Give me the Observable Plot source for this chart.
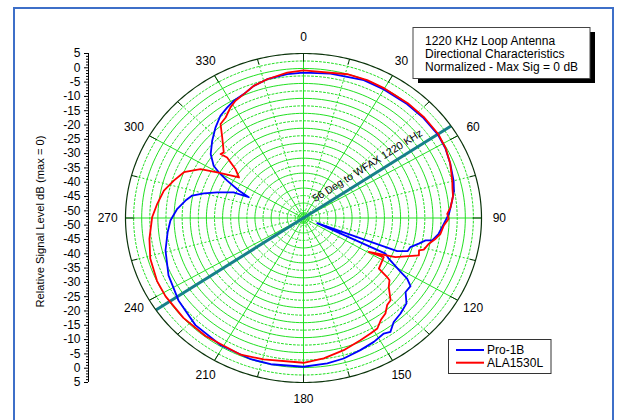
<!DOCTYPE html>
<html><head><meta charset="utf-8">
<script src="https://cdn.jsdelivr.net/npm/d3@7"></script>
<script src="https://cdn.jsdelivr.net/npm/@observablehq/plot@0.6"></script>
<style>
body{margin:0;background:#fff;font-family:Arial,"Liberation Sans",sans-serif;}
#wrap{position:relative;width:618px;height:420px;overflow:hidden;}
</style>
</head><body><div id="wrap"></div>
<script>
// ---- data (azimuth in degrees, level in dB) ----
const seriesNames = ["Pro-1B", "ALA1530L"];
const seriesColors = ["#0000ff", "#ff0000"];
const proAngles = [0, 9.8, 22, 30, 40, 48, 56, 62, 68, 75, 79, 82.8, 88.3, 92.5, 97.2, 100.7, 101.2, 103.5, 106.4, 108.9, 110.9, 112.2, 115.2, 117.3, 121, 122.3, 124.6, 128.1, 131.9, 136.8, 141.3, 144.8, 147.3, 152.3, 158.3, 165.2, 171.4, 180, 191.7, 199, 211, 223, 234.5, 245.3, 255.7, 263.4, 268.8, 274.5, 279.1, 282.3, 285, 287.8, 291.7, 292.3, 294.7, 297.9, 300.3, 302.2, 306.7, 312.5, 318, 323.1, 327.4, 331.2, 336, 340.8, 346.4, 354];
const proDb = [-1.7, -1.3, -0.5, -0.6, -0.5, -0.3, -0.2, -0.6, -1.4, -2.3, -3.0, -4.1, -5.5, -7.1, -8.5, -10.2, -12.3, -14.2, -16.5, -16.9, -20.1, -47.7, -23.2, -21.5, -15.9, -12.9, -10.5, -10.6, -7.8, -6.7, -5.9, -3.8, -4.5, -3.6, -2.8, -1.7, -1.1, -0.5, -0.3, -0.3, -0.6, -1.3, -2.9, -4.5, -6.5, -8.3, -9.5, -11.6, -13.9, -15.7, -19.2, -23.2, -28.2, -33.4, -29.5, -24.6, -20.8, -18.2, -15.1, -12.5, -10.0, -7.8, -6.7, -5.75, -5.1, -3.6, -2.6, -1.95];
const alaAngles = [0, 15.7, 23.1, 30, 40, 48, 56, 62, 68, 74.8, 78, 81, 85.5, 88.2, 90.3, 93.3, 97.1, 99.6, 102.5, 105.9, 106.9, 109.3, 114.7, 119.4, 117.8, 126, 127.4, 128.1, 131.2, 135.6, 138.4, 141.6, 144.9, 148.3, 151.8, 156.7, 164.3, 172.4, 180, 194.6, 203, 217.5, 228, 238.4, 245, 254, 261.7, 270.3, 276, 282, 287.3, 292.5, 297.2, 299.8, 302.2, 304.2, 307.9, 310.6, 309.9, 311.7, 317, 320.8, 324.4, 328.6, 331.8, 336, 340.8, 346.4, 354.1];
const alaDb = [-0.9, -0.3, -0.1, -0.2, -0.1, 0, 0, -0.5, -1.4, -2.7, -3.3, -3.6, -4.85, -6.05, -5.6, -7.1, -7.9, -9.2, -11.0, -12.1, -13.5, -13.0, -19.8, -28.3, -23.2, -22.4, -18.5, -17.2, -15.9, -12.3, -11.8, -9.9, -9.0, -7.1, -6.7, -6.0, -4.5, -3.0, -1.9, -1.4, -0.6, -0.5, -0.3, -0.2, -0.3, -1.0, -2.2, -3.6, -5.0, -6.4, -8.6, -10.7, -15.1, -20.4, -24.6, -27.3, -24.6, -20.0, -17.6, -18.0, -14.0, -10.1, -9.3, -7.2, -6.0, -5.1, -3.6, -2.6, -1.4];
const angleTicks = [0, 30, 60, 90, 120, 150, 180, 210, 240, 270, 300, 330];
const dbTicks = [5, 0, -5, -10, -15, -20, -25, -30, -35, -40, -45, -50];
const bearing = 56;
const bearingLabel = "56 Deg to WFAX 1220 KHz";
const noteLines = ["1220 KHz Loop Antenna", "Directional Characteristics", "Normalized - Max Sig = 0 dB"];
const axisTitle = "Relative Signal Level dB (max = 0)";
const rOuter = 5, rCenter = -52.5;

// ---- layout ----
const W = 618, H = 420, mL = 125, mR = 137, mT = 53, mB = 38;
const rx = (W - mL - mR) / 2, ry = (H - mT - mB) / 2;
const rad = a => a * Math.PI / 180;
const toRho = v => (v - rCenter) / (rOuter - rCenter);
const px = (a, r) => r * Math.sin(rad(a));
const py = (a, r) => r * Math.cos(rad(a));

function series(name, angles, values) {
  const pts = angles.map((a, i) => ({name, a, v: values[i]}));
  pts.push({...pts[0]});
  return pts;
}
const pro = series(seriesNames[0], proAngles, proDb);
const ala = series(seriesNames[1], alaAngles, alaDb);

// grid
const ringCount = 22;
const rings = [];
for (let k = 1; k < ringCount; k++) for (let a = 0; a <= 360; a += 2) rings.push({k, a, r: k / ringCount});
const tiny = [];
[0.012, 0.022, 0.032].forEach((r, k) => { for (let a = 0; a <= 360; a += 10) tiny.push({k, a, r}); });
const outer = d3.range(0, 361, 1).map(a => ({a}));
const spokes = d3.range(0, 360, 15);

const yMajor = [...dbTicks.map(v => toRho(v)), ...dbTicks.map(v => -toRho(v))];
const minorVals = d3.range(5, -53, -1).filter(v => v % 5 !== 0);
const yMinor = [...minorVals.map(v => toRho(v)), ...minorVals.map(v => -toRho(v))];
const fmt = y => String(Math.round(Math.abs(y) * (rOuter - rCenter) + rCenter));

const green = "#22e022";
const textRot = -Math.atan2(ry * Math.cos(rad(bearing)), rx * Math.sin(rad(bearing))) * 180 / Math.PI;
const FONT = "Arial, 'Liberation Sans', sans-serif";

const plot = Plot.plot({
  width: W, height: H,
  marginLeft: mL, marginRight: mR, marginTop: mT, marginBottom: mB,
  x: {domain: [-1, 1], axis: null},
  y: {domain: [-1, 1], axis: null},
  style: {fontFamily: FONT, fontSize: "12px", background: "transparent", color: "#000", overflow: "visible"},
  marks: [
    Plot.line(rings.filter(d => d.k % 2 === 1), {x: d => px(d.a, d.r), y: d => py(d.a, d.r), z: "k", stroke: green, strokeWidth: 1, strokeDasharray: "2,2"}),
    Plot.line(rings.filter(d => d.k % 2 === 0), {x: d => px(d.a, d.r), y: d => py(d.a, d.r), z: "k", stroke: green, strokeWidth: 1}),
    Plot.line(tiny, {x: d => px(d.a, d.r), y: d => py(d.a, d.r), z: "k", stroke: green, strokeWidth: 1}),
    Plot.link(spokes.filter(a => a % 30 !== 0), {x1: () => 0, y1: () => 0, x2: a => px(a, 1), y2: a => py(a, 1), stroke: green, strokeWidth: 1, strokeDasharray: "2,2"}),
    Plot.link(spokes.filter(a => a % 30 === 0), {x1: () => 0, y1: () => 0, x2: a => px(a, 1), y2: a => py(a, 1), stroke: green, strokeWidth: 1}),
    Plot.link([bearing], {x1: a => px(a + 180, 1), y1: a => py(a + 180, 1), x2: a => px(a, 1), y2: a => py(a, 1), stroke: "#17808a", strokeWidth: 3}),
    Plot.text([bearingLabel], {x: () => 0, y: () => 0, dx: 10, dy: -18.5, rotate: textRot, textAnchor: "start", fontSize: 10.5, fill: "#000"}),
    Plot.line(pro, {x: d => px(d.a, toRho(d.v)), y: d => py(d.a, toRho(d.v)), stroke: seriesColors[0], strokeWidth: 1.8}),
    Plot.line(ala, {x: d => px(d.a, toRho(d.v)), y: d => py(d.a, toRho(d.v)), stroke: seriesColors[1], strokeWidth: 1.8}),
    Plot.line(outer, {x: d => px(d.a, 1), y: d => py(d.a, 1), stroke: "#0a330a", strokeWidth: 1.2}),
    Plot.link(spokes, {x1: a => px(a, a % 30 === 0 ? 0.95 : 0.965), y1: a => py(a, a % 30 === 0 ? 0.95 : 0.965), x2: a => px(a, 1), y2: a => py(a, 1), stroke: "#0a330a", strokeWidth: 1}),
    Plot.text(angleTicks, {x: a => px(a, 1.1), y: a => py(a, 1.1), text: a => String(a), fontSize: 12, fill: "#000"}),
    Plot.ruleX([-1], {y1: -1, y2: 1, dx: -37, stroke: "#000", strokeWidth: 1}),
    Plot.axisY({ticks: yMajor, tickFormat: fmt, tickSize: 4, tickPadding: 4, dx: -37, anchor: "left", fontSize: 12, stroke: "#000", fill: "#000"}),
    Plot.axisY({ticks: yMinor, tickFormat: () => "", tickSize: 2, dx: -37, anchor: "left", stroke: "#000"}),
    Plot.text([axisTitle], {frameAnchor: "left", rotate: -90, dx: -85, dy: 3.5, textAnchor: "middle", fontSize: 11.2, fill: "#000"})
  ]
});

document.getElementById("wrap").appendChild(plot);
const svg = d3.select(plot);
// outer frame
svg.append("rect").attr("x", 14).attr("y", 8).attr("width", 599).attr("height", 430)
  .attr("fill", "none").attr("stroke", "#3d6fc8").attr("stroke-width", 2);
// annotation box
const ann = svg.append("g").attr("text-anchor", "start");
ann.append("rect").attr("x", 418).attr("y", 32).attr("width", 177).attr("height", 51).attr("fill", "#000");
ann.append("rect").attr("x", 413).attr("y", 27.5).attr("width", 177).attr("height", 51).attr("fill", "#fff").attr("stroke", "#444").attr("stroke-width", 1);
noteLines.forEach((t, i) => ann.append("text").attr("x", 425).attr("y", 40.7 + i * 13.2).attr("dy", "0.35em")
  .attr("text-anchor", "start").attr("font-size", 12).attr("font-family", FONT).attr("fill", "#000").text(t));
// legend
const leg = svg.append("g").attr("text-anchor", "start");
leg.append("rect").attr("x", 448.5).attr("y", 339.5).attr("width", 102.5).attr("height", 34).attr("fill", "#fff").attr("stroke", "#333").attr("stroke-width", 1);
seriesNames.forEach((n, i) => {
  const y = 350 + i * 12.7;
  leg.append("line").attr("x1", 456).attr("x2", 484).attr("y1", y).attr("y2", y).attr("stroke", seriesColors[i]).attr("stroke-width", 2);
  leg.append("text").attr("x", 487).attr("y", y).attr("dy", "0.35em").attr("text-anchor", "start").attr("font-size", 12)
    .attr("font-family", FONT).attr("fill", "#000").text(n);
});
</script>
</body></html>
